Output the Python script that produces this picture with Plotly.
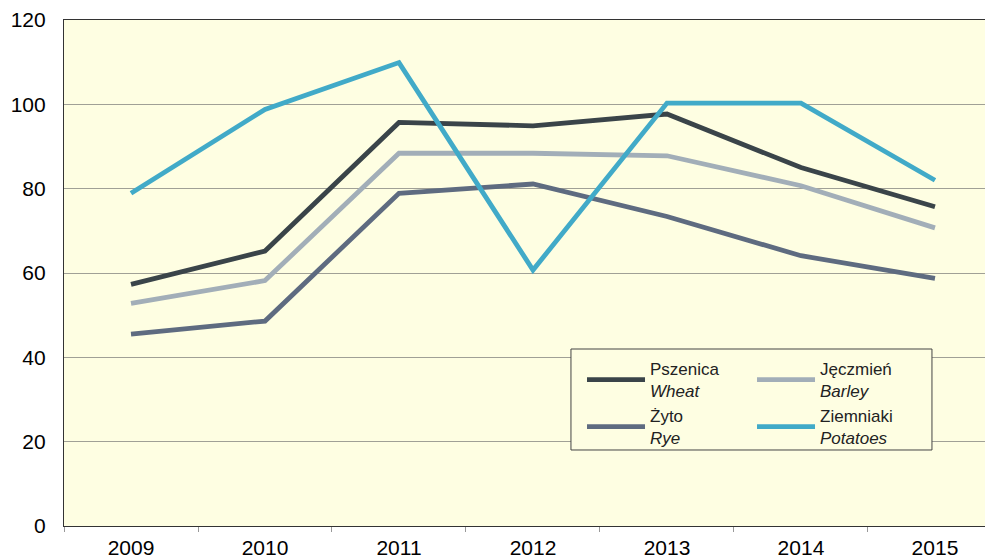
import plotly.graph_objects as go

years = ["2009", "2010", "2011", "2012", "2013", "2014", "2015"]
wheat = [57.3, 65.2, 95.7, 94.9, 97.7, 85.0, 75.7]
barley = [52.8, 58.2, 88.4, 88.4, 87.8, 80.7, 70.7]
rye = [45.5, 48.6, 78.9, 81.1, 73.4, 64.1, 58.7]
potatoes = [78.9, 98.8, 109.9, 60.7, 100.3, 100.3, 82.0]

names = ["Pszenica<br><i>Wheat</i>", "Jęczmień<br><i>Barley</i>",
         "Żyto<br><i>Rye</i>", "Ziemniaki<br><i>Potatoes</i>"]
series = [wheat, barley, rye, potatoes]
colors = ["#3a4449", "#a2aeb8", "#5e6b80", "#41aac8"]
legend_ids = ["legend", "legend3", "legend2", "legend4"]

BG = "#fefee2"
font = "Liberation Sans, Arial, sans-serif"

fig = go.Figure()
for n, s, c, lid in zip(names, series, colors, legend_ids):
    fig.add_trace(go.Scatter(x=years, y=s, name=n, mode="lines",
                             line=dict(color=c, width=4.8), legend=lid))

# legend box (decoration)
fig.add_shape(type="rect", xref="paper", yref="paper",
              x0=0.5457, x1=0.9343, y0=0.1502, y1=0.3498,
              line=dict(color="#444444", width=1), fillcolor=BG, layer="above")

def leg(x, y):
    return dict(x=x, xanchor="left", y=y, yanchor="middle",
                bgcolor="rgba(0,0,0,0)", borderwidth=0,
                font=dict(family=font, size=17, color="#222222"),
                itemwidth=58)

# the page body has an 8px default margin, so the figure is sized to fit
fig.update_layout(
    width=985, height=552,
    margin=dict(l=56, r=0, t=12, b=34),
    paper_bgcolor="white",
    plot_bgcolor=BG,
    font=dict(family=font, size=21, color="black"),
    showlegend=True,
    legend=leg(0.5576, 0.2885),
    legend2=leg(0.5576, 0.1957),
    legend3=leg(0.7406, 0.2885),
    legend4=leg(0.7406, 0.1957),
    xaxis=dict(
        type="category",
        range=[-0.5, 6.433],
        showgrid=False,
        showline=True, linecolor="#333333", linewidth=1.2,
        mirror=True,
        ticks="outside", ticklen=5, tickcolor="#999999",
        tickson="boundaries",
        tickfont=dict(size=21),
        ticklabelstandoff=3,
        automargin=False,
    ),
    yaxis=dict(
        range=[0, 120],
        dtick=20,
        showgrid=True, gridcolor="#a0a096", gridwidth=1,
        showline=True, linecolor="#333333", linewidth=1.2,
        zeroline=False,
        ticks="",
        tickfont=dict(size=21),
        ticklabelstandoff=13,
        automargin=False,
    ),
)

fig.write_html("out.html")
